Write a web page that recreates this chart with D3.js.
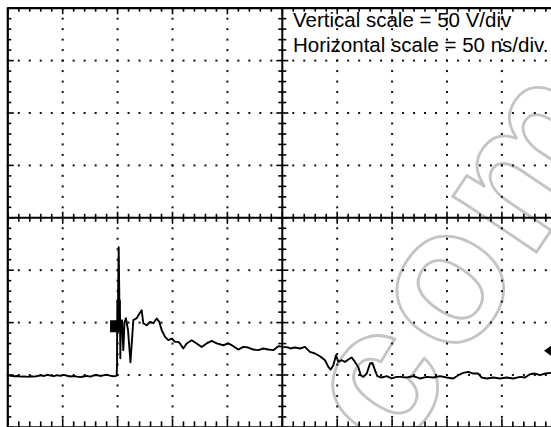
<!DOCTYPE html>
<html>
<head>
<meta charset="utf-8">
<script src="https://cdn.jsdelivr.net/npm/d3@7/dist/d3.min.js"></script>
<style>
  html, body { margin: 0; padding: 0; background: #fff; }
  svg { display: block; }
</style>
</head>
<body>
<script>
// screen settings
var vScaleText = 'Vertical scale = 50 V/div';
var hScaleText = 'Horizontal scale = 50 ns/div.';
var timeDomain = [0, 500];      // ns, 10 div
var voltDomain = [-200, 200];   // V, 8 div

// trace, time in ns and voltage in V
var traceTime = [0, 3, 6, 9, 12, 15, 18, 21, 24, 27, 30, 33, 36, 39, 42, 45, 48, 51, 54, 57,
  60, 63, 66, 69, 72, 75, 78, 81, 84, 87, 90, 93, 96, 99,
  99.2, 99.5, 99.6, 99.8, 100.2, 100.5, 101.0, 101.5, 101.8, 102.1, 102.5, 102.9, 103.4, 104.0,
  105.2, 106.3, 107.6, 109.5, 111.7, 113.1, 114.3, 117.4, 119.5, 121.9, 123.4, 126.5, 129.5,
  132.5, 135.6, 138.0, 140.2, 143.2, 146.2, 149.3, 152.3, 155.3,
  156.8, 159.8, 162.9, 167.5, 172.0, 176.6, 181.1, 185.7, 190.3, 196.3, 200.8, 205.4, 209.9,
  214.5, 219.0, 223.6, 228.1, 232.7, 237.2, 241.8, 246.4, 250.9, 255.5,
  257.0, 261.5, 266.1, 270.6, 275.2, 279.8, 284.3, 288.9, 291.9, 294.1, 296.5, 298.9, 301.0,
  304.1, 307.1, 310.1, 313.2, 316.2, 319.2, 321.4, 323.8, 326.9, 329.9, 332.0, 334.4, 336.5,
  340.5, 345.1, 349.6, 354.2,
  357.2, 363.3, 369.3, 375.4, 381.5, 387.5, 393.6, 399.7, 405.7, 410.3, 414.8, 419.4, 423.9,
  428.5, 431.6, 436.2, 442.2, 448.3, 454.4, 460.4, 466.5, 471.0, 475.6, 480.1, 484.7, 489.2, 494.7];
var traceVolt = [-150.5, -150.8, -151.2, -151.0, -151.6, -151.3, -151.8, -151.2, -151.5, -151.0,
  -150.4, -150.9, -149.8, -150.6, -151.1, -150.2, -150.8, -149.9, -150.7, -151.4,
  -150.9, -151.5, -152.0, -151.4, -150.8, -151.6, -150.5, -150.0, -150.9, -150.3, -149.7, -150.6, -151.2, -150.8,
  -150.2, -137.8, -107.3, -78.6, -107.3, -67.2, -28.1, -69.1, -107.3, -78.6, -134.0, -102.5, -109.2, -97.7,
  -126.3, -99.6, -95.8, -107.3, -137.8, -116.8, -97.7, -95.8, -92.0, -88.2, -100.6, -102.5, -99.3,
  -100.6, -96.1, -99.3, -107.3, -113.6, -116.8, -115.2, -118.4, -118.4,
  -119.9, -124.7, -119.9, -116.8, -119.9, -123.2, -119.9, -117.5, -119.9, -121.6, -119.9, -122.5, -125.7,
  -123.2, -123.8, -125.7, -126.3, -124.7, -125.7, -126.3, -122.5, -123.2, -123.8,
  -124.7, -123.8, -124.7, -123.2, -128.0, -129.5, -132.1, -135.9, -142.3, -144.8, -140.6, -131.1, -137.5,
  -135.9, -137.5, -135.2, -133.3, -137.5, -142.3, -150.2, -151.8, -148.6, -139.0, -138.5, -145.4, -151.1,
  -152.4, -151.1, -153.3, -151.8,
  -151.8, -152.4, -151.1, -153.3, -151.8, -152.4, -151.1, -152.4, -153.3, -150.2, -148.0, -147.0, -148.6,
  -148.6, -152.4, -153.3, -152.4, -153.3, -152.4, -153.3, -151.8, -152.4, -149.3, -148.6, -150.2, -148.6, -148.0];

// trigger box and ground level arrow
var triggerMark = { t: 98.6, v: -103.5 };
var groundLevel = -126.8;

var width = 551, height = 427;
var x0 = 7.8, divW = 54.9;
var y0 = 8.2, divH = 52.4;

var x = d3.scaleLinear().domain(timeDomain).range([x0, x0 + 10 * divW]);
var y = d3.scaleLinear().domain(voltDomain).range([y0 + 8 * divH, y0]);

var svg = d3.select('body').append('svg')
    .attr('width', width)
    .attr('height', height);

svg.append('rect').attr('width', width).attr('height', height).attr('fill', '#fff');

// watermark
svg.append('text')
    .attr('transform', 'translate(396,460) rotate(-56)')
    .attr('font-family', 'Liberation Sans, Arial, sans-serif')
    .attr('font-size', 190)
    .attr('font-weight', 'bold')
    .attr('letter-spacing', 8)
    .attr('fill', 'none')
    .attr('stroke', '#c4c4c4')
    .attr('stroke-width', 2.8)
    .text('com');

var majorT = d3.range(0, 501, 50), minorT = d3.range(0, 501, 10);
var majorV = d3.range(-200, 201, 50), minorV = d3.range(-200, 201, 10);

var grid = svg.append('g');

// dotted division lines
majorV.filter(function(v) { return v !== 0; }).forEach(function(v) {
  grid.selectAll(null).data(minorT).enter().append('rect')
      .attr('x', function(t) { return x(t) - 1; })
      .attr('y', y(v) - 1)
      .attr('width', 2).attr('height', 2)
      .attr('fill', '#111');
});
majorT.filter(function(t) { return t !== 250 && t !== 0; }).forEach(function(t) {
  grid.selectAll(null).data(minorV).enter().append('rect')
      .attr('x', x(t) - 1)
      .attr('y', function(v) { return y(v) - 1; })
      .attr('width', 2).attr('height', 2)
      .attr('fill', '#111');
});

// border and centre axes
function isMajorT(t) { return t % 50 === 0; }
function isMajorV(v) { return v % 50 === 0; }

grid.append('line').attr('x1', x(0)).attr('x2', x(500)).attr('y1', y(200)).attr('y2', y(200))
    .attr('stroke', '#000').attr('stroke-width', 2.2);
grid.append('line').attr('x1', x(0)).attr('x2', x(500)).attr('y1', y(-200)).attr('y2', y(-200))
    .attr('stroke', '#000').attr('stroke-width', 2.2);
grid.append('line').attr('x1', x(0)).attr('x2', x(0)).attr('y1', y(200)).attr('y2', y(-200))
    .attr('stroke', '#000').attr('stroke-width', 2.2);
grid.append('line').attr('x1', x(0)).attr('x2', x(500)).attr('y1', y(0)).attr('y2', y(0))
    .attr('stroke', '#000').attr('stroke-width', 2);
grid.append('line').attr('x1', x(250)).attr('x2', x(250)).attr('y1', y(200)).attr('y2', y(-200))
    .attr('stroke', '#000').attr('stroke-width', 2);

// ticks on top and bottom border
grid.selectAll(null).data(minorT).enter().append('line')
    .attr('x1', x).attr('x2', x)
    .attr('y1', y(200)).attr('y2', function(t) { return y(200) + (isMajorT(t) ? 6 : 3.5); })
    .attr('stroke', '#000').attr('stroke-width', 1.6);
grid.selectAll(null).data(minorT).enter().append('line')
    .attr('x1', x).attr('x2', x)
    .attr('y1', y(-200)).attr('y2', function(t) { return y(-200) - (isMajorT(t) ? 9 : 6); })
    .attr('stroke', '#000').attr('stroke-width', 1.6);
// ticks on left border
grid.selectAll(null).data(minorV).enter().append('line')
    .attr('y1', y).attr('y2', y)
    .attr('x1', x(0)).attr('x2', function(v) { return x(0) + (isMajorV(v) ? 6 : 3.5); })
    .attr('stroke', '#000').attr('stroke-width', 1.6);
// ticks on the centre axes
grid.selectAll(null).data(minorT).enter().append('line')
    .attr('x1', x).attr('x2', x)
    .attr('y1', function(t) { return y(0) - (isMajorT(t) ? 6 : 4); })
    .attr('y2', function(t) { return y(0) + (isMajorT(t) ? 6 : 4); })
    .attr('stroke', '#000').attr('stroke-width', 1.6);
grid.selectAll(null).data(minorV).enter().append('line')
    .attr('y1', y).attr('y2', y)
    .attr('x1', function(v) { return x(250) - (isMajorV(v) ? 6 : 4); })
    .attr('x2', function(v) { return x(250) + (isMajorV(v) ? 6 : 4); })
    .attr('stroke', '#000').attr('stroke-width', 1.6);

// scale labels
svg.append('text')
    .attr('x', 293).attr('y', 27)
    .attr('font-family', 'Liberation Sans, Arial, sans-serif')
    .attr('font-size', 20.5)
    .attr('fill', '#000')
    .text(vScaleText);
svg.append('text')
    .attr('x', 293).attr('y', 52)
    .attr('font-family', 'Liberation Sans, Arial, sans-serif')
    .attr('font-size', 20.5)
    .attr('fill', '#000')
    .text(hScaleText);

// trace
var trace = traceTime.map(function(t, i) { return [t, traceVolt[i]]; });
var line = d3.line()
    .x(function(d) { return x(d[0]); })
    .y(function(d) { return y(d[1]); });

svg.append('path')
    .datum(trace)
    .attr('d', line)
    .attr('fill', 'none')
    .attr('stroke', '#000')
    .attr('stroke-width', 1.9)
    .attr('stroke-linejoin', 'round');

// trigger box
svg.append('rect')
    .attr('x', x(triggerMark.t) - 6)
    .attr('y', y(triggerMark.v) - 6)
    .attr('width', 12).attr('height', 12)
    .attr('fill', '#000');

// ground level arrow at right edge
var gy = y(groundLevel);
svg.append('path')
    .attr('d', 'M' + (width - 7) + ',' + gy + 'L' + width + ',' + (gy - 5) + 'L' + width + ',' + (gy + 5) + 'Z')
    .attr('fill', '#000');
</script>
</body>
</html>
